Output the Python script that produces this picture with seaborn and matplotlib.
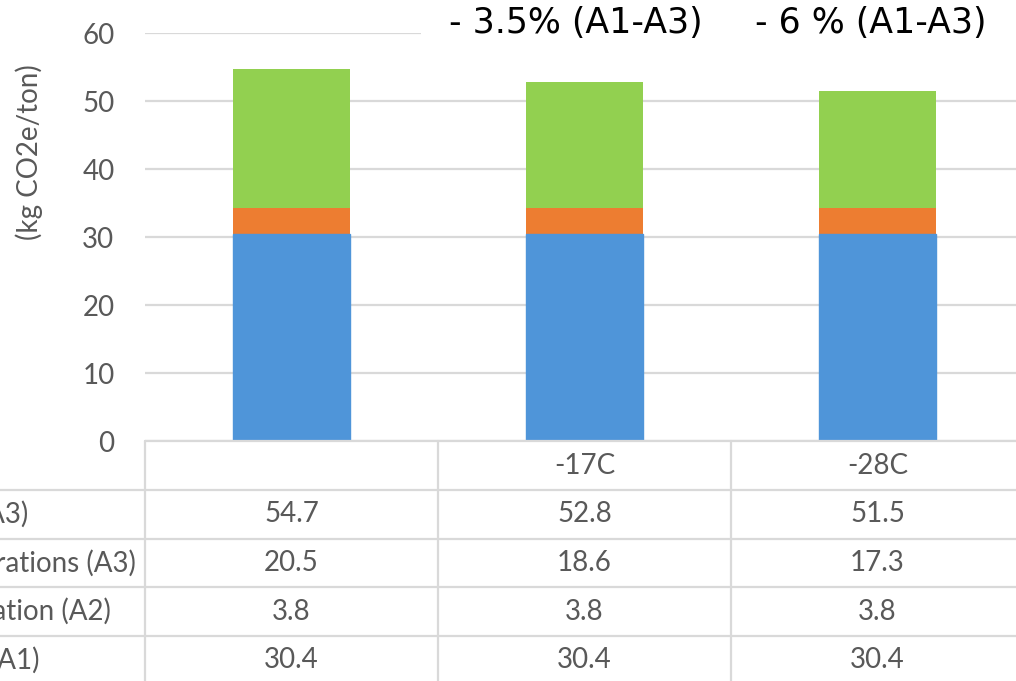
import numpy as np
import pandas as pd
import seaborn as sns
import matplotlib.pyplot as plt
from matplotlib.lines import Line2D
from matplotlib.patches import Rectangle
from matplotlib.transforms import blended_transform_factory

# ---- data ----
scenarios = ["", "-17C", "-28C"]
raw_materials_a1 = [30.4, 30.4, 30.4]
transportation_a2 = [3.8, 3.8, 3.8]
operations_a3 = [20.5, 18.6, 17.3]
row_labels = ["Total (A1-A3)", "Manufacturing operations (A3)",
              "Transportation (A2)", "Raw materials (A1)"]
reduction_notes = ["- 3.5% (A1-A3)", "- 6 % (A1-A3)"]
y_ticks = [0, 10, 20, 30, 40, 50, 60]

BLUE = "#4F95D9"
ORANGE = "#ED7D31"
GREEN = "#92D050"
GRID = "#D9D9D9"
TEXT = "#595959"

W, H = 1016, 681
sns.set_theme(style="white")
plt.rcParams["font.family"] = ["Lato", "DejaVu Sans"]

df = pd.DataFrame({
    "scenario": scenarios,
    "a1": raw_materials_a1,
    "a2": transportation_a2,
    "a3": operations_a3,
})
df["upto_a2"] = df["a1"] + df["a2"]
df["total"] = df["upto_a2"] + df["a3"]


def fx(px):
    return px / W


def fy(py):
    return 1 - py / H


fig = plt.figure(figsize=(W / 100, H / 100), dpi=100)
ax_left, ax_right = 145, 1024
ax_top, ax_bottom = 33, 441
ax = fig.add_axes([fx(ax_left), fy(ax_bottom), (ax_right - ax_left) / W,
                   (ax_bottom - ax_top) / H])

# stacked columns drawn as overlaid cumulative heights
for col, color in [("total", GREEN), ("upto_a2", ORANGE), ("a1", BLUE)]:
    sns.barplot(data=df, x="scenario", y=col, order=scenarios, color=color,
                width=0.4, saturation=1, ax=ax, zorder=3,
                linewidth=0 if col != "a1" else 1.0,
                edgecolor=color)

ax.set_xlim(-0.5, 2.5)
ax.set_ylim(0, 60)
ax.set_yticks(y_ticks)
ax.set_yticklabels([str(t) for t in y_ticks], fontsize=20, color=TEXT)
ax.tick_params(axis="y", length=0, pad=22)
ax.set_xticks([])
ax.set_xlabel("")
ax.set_ylabel("")
ax.yaxis.grid(True, color=GRID, linewidth=1.6, zorder=0)
ax.set_axisbelow(True)
for s in ax.spines.values():
    s.set_visible(False)

# axis title
fig.text(fx(29), fy(152), "(kg CO2e/ton)", rotation=90, ha="center",
         va="center", fontsize=20, color=TEXT)

# ---- data table under the plot ----
bt = blended_transform_factory(ax.transData, fig.transFigure)
row_edges = [441, 490, 539, 587, 636, 684]
lw = 1.6
# header row top line (axis line)
fig.add_artist(Line2D([fx(ax_left), 1.02], [fy(441), fy(441)],
                      transform=fig.transFigure, color=GRID, lw=lw))
for yb in row_edges[1:]:
    fig.add_artist(Line2D([0, 1.02], [fy(yb), fy(yb)],
                          transform=fig.transFigure, color=GRID, lw=lw))
for xb in [-0.5, 0.5, 1.5, 2.5]:
    fig.add_artist(Line2D([xb, xb], [fy(441), fy(684)], transform=bt,
                          color=GRID, lw=lw))

row_centers = [(row_edges[i] + row_edges[i + 1]) / 2 for i in range(5)]
table_values = [df["total"], df["a3"], df["a2"], df["a1"]]
for i, name in enumerate(scenarios):
    fig.text(i, fy(row_centers[0]), name, transform=bt, ha="center",
             va="center", fontsize=20, color=TEXT)
    for r, vals in enumerate(table_values):
        fig.text(i, fy(row_centers[r + 1]), f"{vals[i]:.1f}", transform=bt,
                 ha="center", va="center", fontsize=20, color=TEXT)

label_ends = [28, 136, 111, 40]
for r, label in enumerate(row_labels):
    fig.text(fx(label_ends[r]), fy(row_centers[r + 1]), label, ha="right",
             va="center", fontsize=20, color=TEXT)

# ---- reduction notes in a white box over the top ----
fig.add_artist(Rectangle((fx(421), fy(44)), 1.0, fy(0) - fy(44) + 0.01,
                         transform=fig.transFigure, facecolor="white",
                         edgecolor="none", zorder=5))
note_x = [449, 755]
for x, note in zip(note_x, reduction_notes):
    fig.text(fx(x), fy(23), note, ha="left", va="center", fontsize=25,
             color="black", family=["DejaVu Sans"], zorder=6)

fig.savefig("out.png", dpi=100)
